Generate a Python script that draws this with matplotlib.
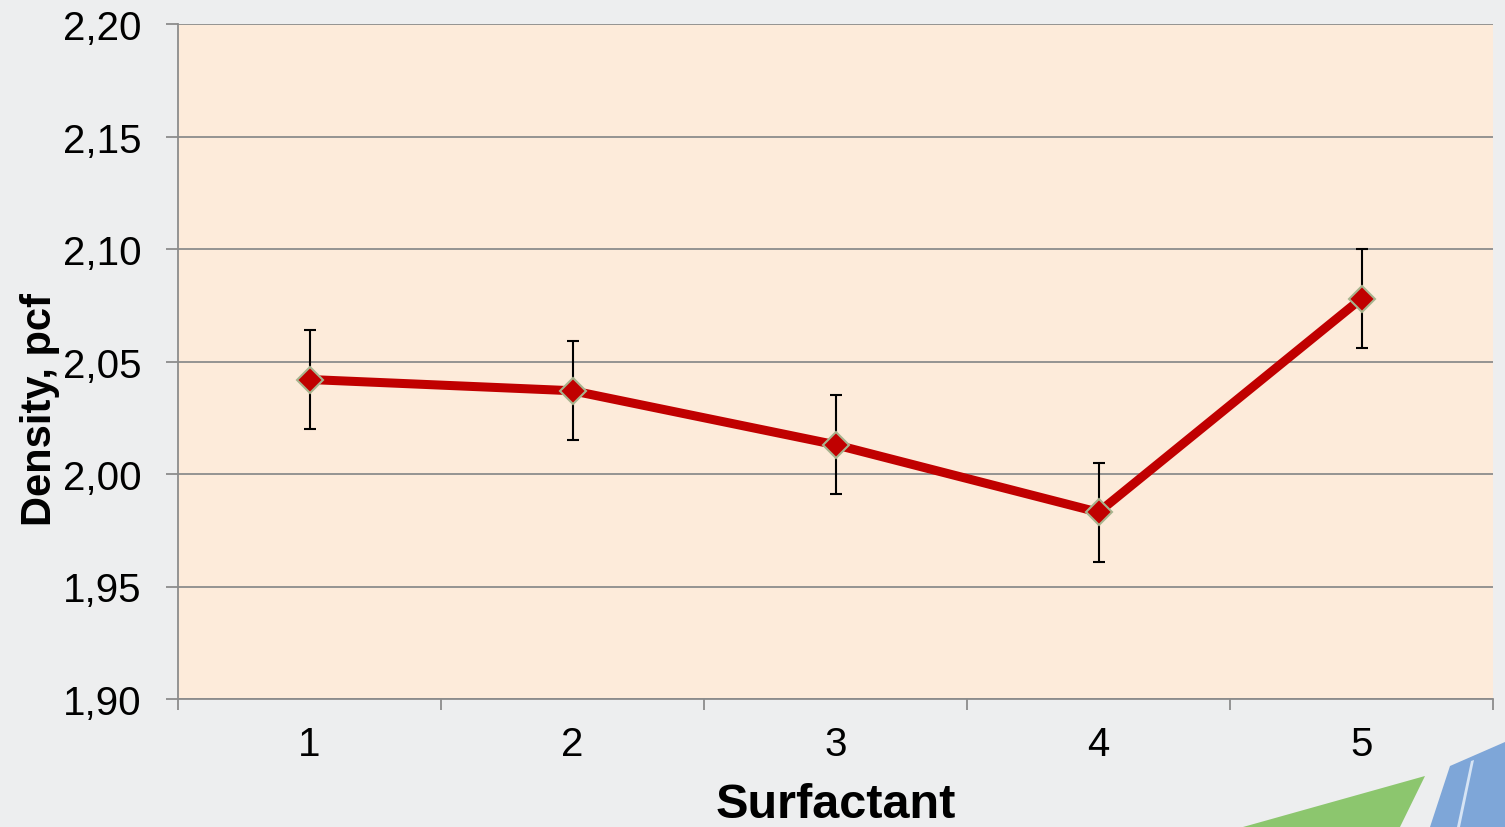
import matplotlib
matplotlib.use("Agg")
import matplotlib.pyplot as plt
from matplotlib.patches import Polygon
import numpy as np

# data
surfactant = [1, 2, 3, 4, 5]
density = [2.042, 2.037, 2.013, 1.983, 2.078]
density_err = [0.022, 0.022, 0.022, 0.022, 0.022]
y_ticks = [1.90, 1.95, 2.00, 2.05, 2.10, 2.15, 2.20]

plt.rcParams["font.family"] = ["Liberation Sans", "DejaVu Sans"]

fig = plt.figure(figsize=(15.05, 8.28), dpi=100)
fig.patch.set_facecolor("#EDEEEF")

# decorative slide shapes in the bottom right corner (figure pixel coords)
W, H = 1505, 828
def fpoly(pts, color, z=0):
    p = Polygon([(x / W, 1 - y / H) for x, y in pts], closed=True,
                transform=fig.transFigure, facecolor=color, edgecolor="none", zorder=z)
    fig.patches.append(p)

fpoly([(1425, 777), (1243, 828), (1400, 828)], "#8CC66E")
fpoly([(1450, 767), (1505, 743), (1505, 828), (1430, 828)], "#7EA6D8")
fpoly([(1471, 762), (1474, 761), (1460, 828), (1457, 828)], "#D6E4F4")

ax = fig.add_axes([178 / W, 1 - 700 / H, (1493 - 178) / W, (700 - 25) / H])
ax.set_facecolor("#FDEBDA")

ax.errorbar(surfactant, density, yerr=density_err, fmt="none", ecolor="black",
            elinewidth=1.5, capsize=4.3, capthick=1.5, zorder=3)
ax.plot(surfactant, density, color="#C00000", lw=6.5, marker="D", markersize=13,
        markerfacecolor="#C00000", markeredgecolor="#A7B48E", markeredgewidth=1.5,
        zorder=4)

ax.set_xlim(0.5, 5.5)
ax.set_ylim(1.90, 2.20)
ax.set_yticks(y_ticks)
ax.set_yticklabels([f"{v:.2f}".replace(".", ",") for v in y_ticks])
ax.set_xticks(surfactant)
ax.set_xticks(np.arange(0.5, 6.0, 1.0), minor=True)
ax.tick_params(axis="x", which="major", length=0, pad=19, labelsize=29)
ax.tick_params(axis="x", which="minor", length=8, width=1.3, color="#8C8C8C", direction="out")
ax.tick_params(axis="y", length=8.5, width=1.3, color="#8C8C8C", pad=18, labelsize=29)

ax.grid(axis="y", color="#8C8C8C", lw=1.3)
ax.set_axisbelow(True)
for s in ["top", "right"]:
    ax.spines[s].set_visible(False)
for s in ["left", "bottom"]:
    ax.spines[s].set_color("#8C8C8C")
    ax.spines[s].set_linewidth(1.3)

ax.set_xlabel("Surfactant", fontsize=35, fontweight="bold")
ax.xaxis.label.set_va("baseline")
ax.xaxis.set_label_coords(0.5, -0.1748)
ax.set_ylabel("Density, pcf", fontsize=30, fontweight="bold")
ax.yaxis.set_label_coords(-0.0897, 0.43)

fig.savefig("out.png", dpi=100, facecolor=fig.get_facecolor())
